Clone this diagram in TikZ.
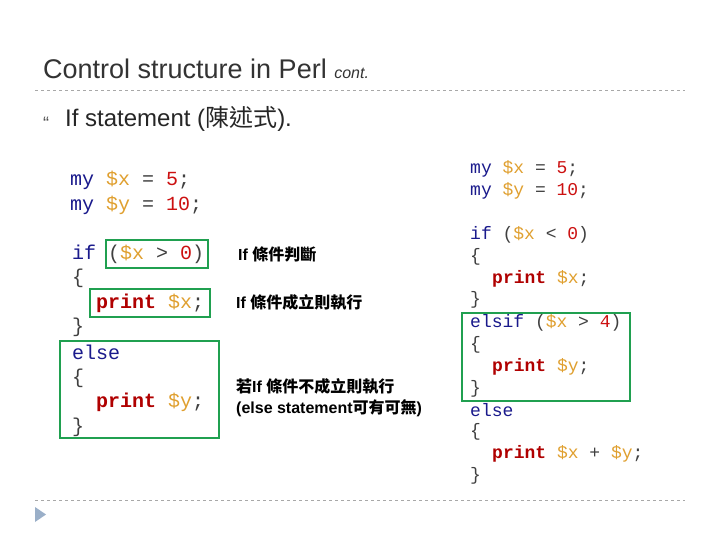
\documentclass[tikz,border=0pt]{standalone}
\usepackage{fontspec}
\setmainfont{Liberation Sans}
\setmonofont{Liberation Mono}
\newfontfamily\cjk{Noto Sans CJK TC}
\definecolor{kwc}{HTML}{1A1A8C}
\definecolor{varc}{HTML}{E0A030}
\definecolor{numc}{HTML}{CC1010}
\definecolor{prc}{HTML}{B00000}
\definecolor{boxc}{HTML}{20A050}
\definecolor{dashc}{HTML}{A8A8A8}
\definecolor{tric}{HTML}{9AAFC8}
\newcommand\ckw[1]{\textcolor{kwc}{#1}}
\newcommand\cvar[1]{\textcolor{varc}{#1}}
\newcommand\cnum[1]{\textcolor{numc}{#1}}
\newcommand\cprt[1]{\textcolor{prc}{\bfseries #1}}
\newcommand\zh[1]{{\cjk\bfseries #1}}
\begin{document}
\begin{tikzpicture}[x=1pt,y=-1pt,
  codeL/.style={anchor=west,inner sep=0,font=\ttfamily\fontsize{20}{20}\selectfont,text=black!75},
  codeR/.style={anchor=west,inner sep=0,font=\ttfamily\fontsize{18}{18}\selectfont,text=black!75},
  lab/.style={anchor=west,inner sep=0,font=\bfseries\fontsize{16}{16}\selectfont},
  gbox/.style={draw=boxc,line width=2pt},
  sep/.style={draw=dashc,dashed,line width=0.8pt}]
\useasboundingbox (0,0) rectangle (720,540);
\fill[white] (0,0) rectangle (720,540);
\node[anchor=base west,inner sep=0,font=\fontsize{27}{27}\selectfont,text=black!80] (title) at (43,79) {Control structure in Perl {\itshape\fontsize{16}{16}\selectfont cont.}};
\coordinate (d1a) at (35,90); \coordinate (d1b) at (685,90);
\draw[sep] (d1a) -- (d1b);
\coordinate (d2a) at (35,500); \coordinate (d2b) at (685,500);
\draw[sep] (d2a) -- (d2b);
\node[anchor=base west,inner sep=0,font=\fontsize{18}{18}\selectfont,text=black!70] (bul) at (43,130) {“};
\node[anchor=base west,inner sep=0,font=\fontsize{24}{24}\selectfont,text=black!85] (sub) at (65,127) {If statement ({\cjk 陳述式}).};
\fill[tric] (35,507) -- (46,514.5) -- (35,522) -- cycle;
% left code
\node[codeL] (l1) at (70,180) {\ckw{my} \cvar{\$x} = \cnum{5};};
\node[codeL] (l2) at (70,205) {\ckw{my} \cvar{\$y} = \cnum{10};};
\node[codeL] (l3) at (72,254) {\ckw{if} (\cvar{\$x} > \cnum{0})};
\node[codeL] (l4) at (72,278) {\{};
\node[codeL] (l5) at (96,303) {\cprt{print} \cvar{\$x};};
\node[codeL] (l6) at (72,327) {\}};
\node[codeL] (l7) at (72,352) {\ckw{else}};
\node[codeL] (l8) at (72,378) {\{};
\node[codeL] (l9) at (96,402) {\cprt{print} \cvar{\$y};};
\node[codeL] (l10) at (72,427) {\}};
\draw[gbox] (106,240) rectangle (208,268);
\draw[gbox] (90,289) rectangle (210,317);
\draw[gbox] (60,341) rectangle (219,438);
% labels
\node[lab] (t1) at (238,254) {If \zh{條件判斷}};
\node[lab] (t2) at (236,302) {If \zh{條件成立則執行}};
\node[lab] (t3) at (236,386) {\zh{若}If \zh{條件不成立則執行}};
\node[lab] (t4) at (236,408) {(else statement\zh{可有可無})};
% right code
\node[codeR] (r1) at (470,169) {\ckw{my} \cvar{\$x} = \cnum{5};};
\node[codeR] (r2) at (470,191) {\ckw{my} \cvar{\$y} = \cnum{10};};
\node[codeR] (r3) at (470,235) {\ckw{if} (\cvar{\$x} < \cnum{0})};
\node[codeR] (r4) at (470,257) {\{};
\node[codeR] (r5) at (492,279) {\cprt{print} \cvar{\$x};};
\node[codeR] (r6) at (470,300) {\}};
\node[codeR] (r7) at (470,323) {\ckw{elsif} (\cvar{\$x} > \cnum{4})};
\node[codeR] (r8) at (470,345) {\{};
\node[codeR] (r9) at (492,367) {\cprt{print} \cvar{\$y};};
\node[codeR] (r10) at (470,389) {\}};
\node[codeR] (r11) at (470,410) {\ckw{else}};
\node[codeR] (r12) at (470,432) {\{};
\node[codeR] (r13) at (492,454) {\cprt{print} \cvar{\$x} + \cvar{\$y};};
\node[codeR] (r14) at (470,476) {\}};
\draw[gbox] (462,313) rectangle (630,401);
\end{tikzpicture}
\end{document}
